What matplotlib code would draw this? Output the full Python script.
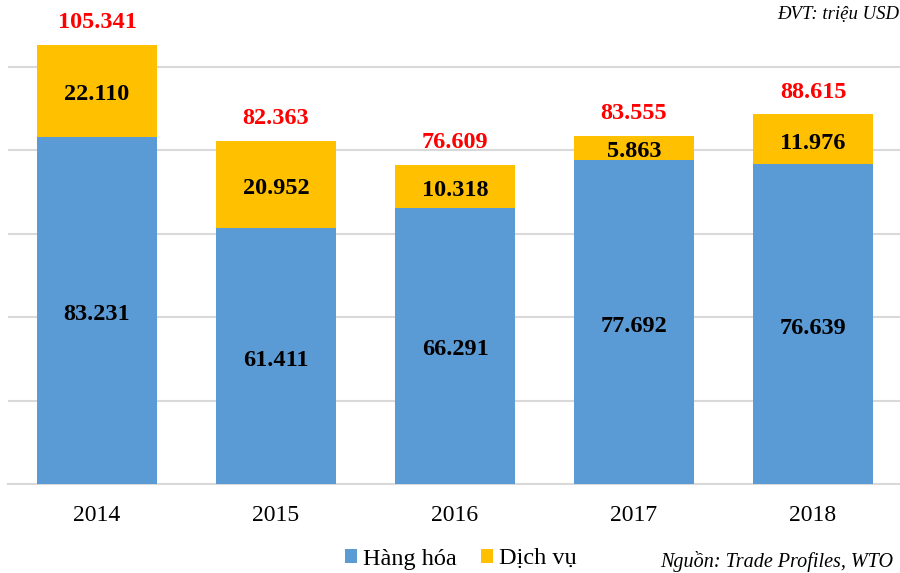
import matplotlib
matplotlib.use("Agg")
import matplotlib.pyplot as plt
from matplotlib.patches import Patch

years = ["2014", "2015", "2016", "2017", "2018"]
hang_hoa = [83231, 61411, 66291, 77692, 76639]
dich_vu = [22110, 20952, 10318, 5863, 11976]
totals = [105341, 82363, 76609, 83555, 88615]

def fmt(v):
    return f"{v:,}".replace(",", ".")

plt.rcParams['font.family'] = ['Liberation Serif', 'DejaVu Serif']
BLUE = "#5B9BD5"
ORANGE = "#FFC000"
GRID = "#D9D9D9"

fig = plt.figure(figsize=(9, 5.73), dpi=100)
ax = fig.add_axes([7.5/900, 89/573, 1 - 7.5/900, 1 - 89/573])
x = list(range(len(years)))
w = 0.665
ax.bar(x, hang_hoa, width=w, color=BLUE, zorder=3)
ax.bar(x, dich_vu, width=w, bottom=hang_hoa, color=ORANGE, zorder=3)

for i in x:
    ax.annotate(fmt(hang_hoa[i]), (i, hang_hoa[i] / 2), xytext=(0, -3), textcoords='offset points',
                ha='center', va='center', fontsize=17.5, fontweight='bold', color='black', zorder=4)
    ax.annotate(fmt(dich_vu[i]), (i, hang_hoa[i] + dich_vu[i] / 2), xytext=(0, -3),
                textcoords='offset points', ha='center', va='center',
                fontsize=17.5, fontweight='bold', color='black', zorder=4)
    ax.annotate(fmt(totals[i]), (i, totals[i]), xytext=(0, 16), textcoords='offset points',
                ha='center', va='center', fontsize=17.5, fontweight='bold', color='#FF0000', zorder=4)

ax.set_xlim(-0.5, 4.486)
ax.set_ylim(0, 116067)
ax.set_yticks([0, 20000, 40000, 60000, 80000, 100000])
ax.yaxis.grid(True, color=GRID, linewidth=1.5, zorder=0)
ax.tick_params(axis='y', left=False, labelleft=False)
ax.set_xticks(x)
ax.set_xticklabels(years, fontsize=17)
ax.tick_params(axis='x', length=0, pad=15)
for s in ['top', 'right', 'left']:
    ax.spines[s].set_visible(False)
ax.spines['bottom'].set_color(GRID)
ax.spines['bottom'].set_linewidth(1.5)

handles = [Patch(facecolor=BLUE, label="Hàng hóa"), Patch(facecolor=ORANGE, label="Dịch vụ")]
fig.legend(handles=handles, loc='center', bbox_to_anchor=(461/900, 1 - 559/573), ncol=2,
           frameon=False, fontsize=17.5, handlelength=0.5, handleheight=0.5,
           handletextpad=0.25, columnspacing=1.0, borderpad=0)

fig.text(0.999, 1 - 15/573, "ĐVT: triệu USD", ha='right', va='center', fontsize=13.5, style='italic')
fig.text(660/900, 1 - 562/573, "Nguồn: Trade Profiles, WTO", ha='left', va='center', fontsize=14.5, style='italic')

fig.savefig("out.png", dpi=100)
